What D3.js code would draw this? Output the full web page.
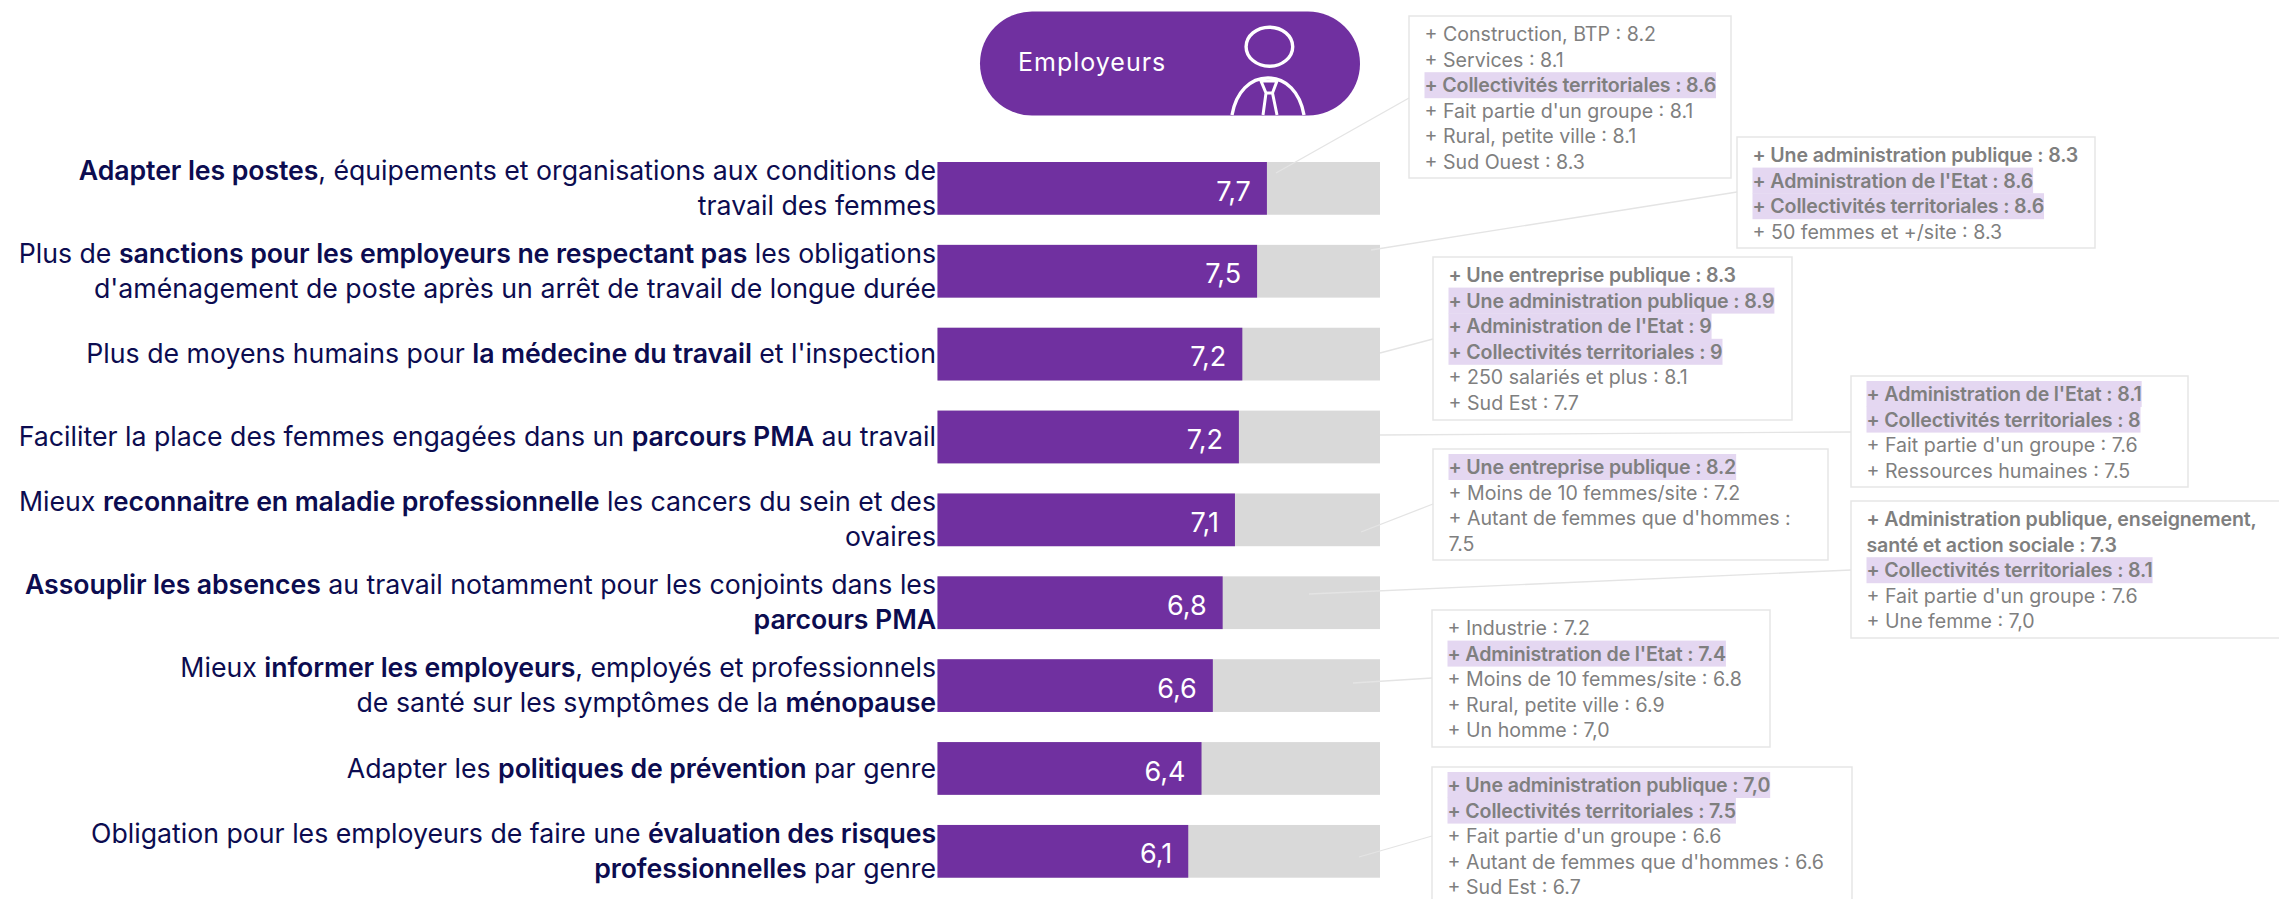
<!DOCTYPE html>
<html>
<head>
<meta charset="utf-8">
<script src="https://cdn.jsdelivr.net/npm/d3@7"></script>
<style>
  html, body { margin: 0; padding: 0; background: #fff; overflow: hidden; }
  text { font-family: Inter, sans-serif; }
</style>
</head>
<body>
<script>
// ** marks the bold parts of a label, one inner list per text line
var labels = [
    ["**Adapter les postes**, équipements et organisations aux conditions de", "travail des femmes"],
    ["Plus de **sanctions pour les employeurs ne respectant pas** les obligations", "d'aménagement de poste après un arrêt de travail de longue durée"],
    ["Plus de moyens humains pour **la médecine du travail** et l'inspection"],
    ["Faciliter la place des femmes engagées dans un **parcours PMA** au travail"],
    ["Mieux **reconnaitre en maladie professionnelle** les cancers du sein et des", "ovaires"],
    ["**Assouplir les absences** au travail notamment pour les conjoints dans les", "**parcours PMA**"],
    ["Mieux **informer les employeurs**, employés et professionnels", "de santé sur les symptômes de la **ménopause**"],
    ["Adapter les **politiques de prévention** par genre"],
    ["Obligation pour les employeurs de faire une **évaluation des risques**", "**professionnelles** par genre"]
];
var values = [7.7, 7.5, 7.2, 7.13, 7.05, 6.8, 6.6, 6.37, 6.1];
var valueLabels = ["7,7", "7,5", "7,2", "7,2", "7,1", "6,8", "6,6", "6,4", "6,1"];

// b = bold, h = highlighted
var notes = [
    [["+ Construction, BTP : 8.2"], ["+ Services : 8.1"], ["+ Collectivités territoriales : 8.6", "bh"], ["+ Fait partie d'un groupe : 8.1"], ["+ Rural, petite ville : 8.1"], ["+ Sud Ouest : 8.3"]],
    [["+ Une administration publique : 8.3", "b"], ["+ Administration de l'Etat : 8.6", "bh"], ["+ Collectivités territoriales : 8.6", "bh"], ["+ 50 femmes et +/site : 8.3"]],
    [["+ Une entreprise publique : 8.3", "b"], ["+ Une administration publique : 8.9", "bh"], ["+ Administration de l'Etat : 9", "bh"], ["+ Collectivités territoriales : 9", "bh"], ["+ 250 salariés et plus : 8.1"], ["+ Sud Est : 7.7"]],
    [["+ Administration de l'Etat : 8.1", "bh"], ["+ Collectivités territoriales : 8", "bh"], ["+ Fait partie d'un groupe : 7.6"], ["+ Ressources humaines : 7.5"]],
    [["+ Une entreprise publique : 8.2", "bh"], ["+ Moins de 10 femmes/site : 7.2"], ["+ Autant de femmes que d'hommes :"], ["7.5"]],
    [["+ Administration publique, enseignement,", "b"], ["santé et action sociale : 7.3", "b"], ["+ Collectivités territoriales : 8.1", "bh"], ["+ Fait partie d'un groupe : 7.6"], ["+ Une femme : 7,0"]],
    [["+ Industrie : 7.2"], ["+ Administration de l'Etat : 7.4", "bh"], ["+ Moins de 10 femmes/site : 6.8"], ["+ Rural, petite ville : 6.9"], ["+ Un homme : 7,0"]],
    [["+ Une administration publique : 7,0", "bh"], ["+ Collectivités territoriales : 7.5", "bh"], ["+ Fait partie d'un groupe : 6.6"], ["+ Autant de femmes que d'hommes : 6.6"], ["+ Sud Est : 6.7"]]
];

// layout of the note boxes: x0, y0, x1, y1
var noteBoxes = [
    [1409, 16, 1731, 178],
    [1737, 137, 2095, 248],
    [1433, 257, 1792, 420],
    [1851, 376, 2188, 487],
    [1433, 449, 1828, 560],
    [1851, 501, 2290, 638],
    [1432, 610, 1770, 747],
    [1432, 767, 1852, 920]
];
// leader lines, note end then bar end
var leaders = [
    [1409, 98, 1276, 173],
    [1737, 192, 1371, 250],
    [1433, 339, 1380, 353],
    [1851, 432, 1380, 435],
    [1433, 504, 1361, 532],
    [1851, 570, 1309, 594],
    [1432, 678, 1353, 683],
    [1432, 836, 1359, 857]
];

var purple = '#7030a0', navy = '#0c0c50', grey = '#7f7f7f';
var labelSize = 26.7, noteSize = 19.6, linePitch = 25.6;

var svg = d3.select('body').append('svg')
    .attr('width', 2279)
    .attr('height', 899)
    .style('display', 'block');

// scales: the answers are on a 1 to 10 scale
var xscale = d3.scaleLinear().domain([1, 10]).range([937.5, 1380]);
var yscale = d3.scaleBand().domain(d3.range(values.length)).range([162, 877.7]).paddingInner(0.3635).paddingOuter(0);

// tracks
svg.selectAll('.track')
    .data(values)
    .enter().append('rect')
    .attr('class', 'track')
    .attr('x', xscale(1))
    .attr('y', function (d, i) { return yscale(i); })
    .attr('width', xscale(10) - xscale(1))
    .attr('height', yscale.bandwidth())
    .attr('fill', '#d9d9d9');

// bars
svg.selectAll('.bar')
    .data(values)
    .enter().append('rect')
    .attr('class', 'bar')
    .attr('x', xscale(1))
    .attr('y', function (d, i) { return yscale(i); })
    .attr('width', function (d) { return xscale(d) - xscale(1); })
    .attr('height', yscale.bandwidth())
    .attr('fill', purple);

// value labels
svg.selectAll('.value')
    .data(values)
    .enter().append('text')
    .attr('class', 'value')
    .attr('x', function (d) { return xscale(d) - 16; })
    .attr('y', function (d, i) { return yscale(i) + 38.5; })
    .attr('text-anchor', 'end')
    .attr('font-size', '27px')
    .attr('fill', '#fff')
    .text(function (d, i) { return valueLabels[i]; });

// left labels, split on ** to get the bold runs
labels.forEach(function (lines, i) {
    lines.forEach(function (line, j) {
        var base = lines.length == 1 ? yscale(i) + 35.5 : yscale(i) + 18 + j * 35;
        var text = svg.append('text')
            .attr('x', 936)
            .attr('y', base)
            .attr('text-anchor', 'end')
            .attr('font-size', labelSize + 'px')
            .attr('fill', navy);
        line.split('**').forEach(function (part, k) {
            if (!part) return;
            text.append('tspan')
                .attr('font-weight', k % 2 ? 600 : 400)
                .attr('letter-spacing', k % 2 ? '-0.1px' : null)
                .text(part);
        });
    });
});

// note boxes
notes.forEach(function (lines, n) {
    var box = noteBoxes[n];
    var g = svg.append('g');
    g.append('rect')
        .attr('x', box[0])
        .attr('y', box[1])
        .attr('width', box[2] - box[0])
        .attr('height', box[3] - box[1])
        .attr('fill', '#fff')
        .attr('stroke', '#e6e6e6')
        .attr('stroke-width', 1.5);
    lines.forEach(function (line, j) {
        var flags = line[1] || '';
        var bold = flags.indexOf('b') >= 0;
        var x = box[0] + 15.5;
        var y = box[1] + 18 + j * linePitch;
        var hl = g.append('rect').attr('fill', '#e4d7f1');
        var t = g.append('text')
            .attr('x', x)
            .attr('y', y + 7)
            .attr('font-size', noteSize + 'px')
            .attr('font-weight', bold ? 600 : 400)
            .attr('letter-spacing', bold ? '-0.15px' : null)
            .attr('fill', grey)
            .text(line[0]);
        if (flags.indexOf('h') >= 0) {
            hl.attr('x', x)
                .attr('y', y - 13)
                .attr('width', t.node().getComputedTextLength())
                .attr('height', linePitch + 0.4);
        } else {
            hl.remove();
        }
    });
});

// leader lines from the bars to the notes
svg.selectAll('.leader')
    .data(leaders)
    .enter().append('line')
    .attr('class', 'leader')
    .attr('x1', function (d) { return d[0]; })
    .attr('y1', function (d) { return d[1]; })
    .attr('x2', function (d) { return d[2]; })
    .attr('y2', function (d) { return d[3]; })
    .attr('stroke', '#e4e4e4')
    .attr('stroke-width', 1.3);

// header pill with the little person
var pill = svg.append('g');
pill.append('rect')
    .attr('x', 980)
    .attr('y', 11.5)
    .attr('width', 380)
    .attr('height', 104)
    .attr('rx', 52)
    .attr('fill', purple);
pill.append('text')
    .attr('x', 1018)
    .attr('y', 71)
    .attr('font-family', 'Lato')
    .attr('font-size', '25px')
    .attr('letter-spacing', '1px')
    .attr('fill', '#fff')
    .text('Employeurs');
pill.append('ellipse')
    .attr('cx', 1269.4)
    .attr('cy', 46.7)
    .attr('rx', 23.3)
    .attr('ry', 19.5)
    .attr('fill', 'none')
    .attr('stroke', '#fff')
    .attr('stroke-width', 3.4);
pill.append('path')
    .attr('d', 'M1232,115 C1236,92 1250,78 1268,78 C1286,78 1300,92 1304,115')
    .attr('fill', 'none')
    .attr('stroke', '#fff')
    .attr('stroke-width', 3.4);
pill.append('path')
    .attr('d', 'M1261,81 L1277,81 L1272.5,93 L1266,93 Z M1266,93 L1263,115 M1272.5,93 L1277,115')
    .attr('fill', 'none')
    .attr('stroke', '#fff')
    .attr('stroke-width', 3);
</script>
</body>
</html>
